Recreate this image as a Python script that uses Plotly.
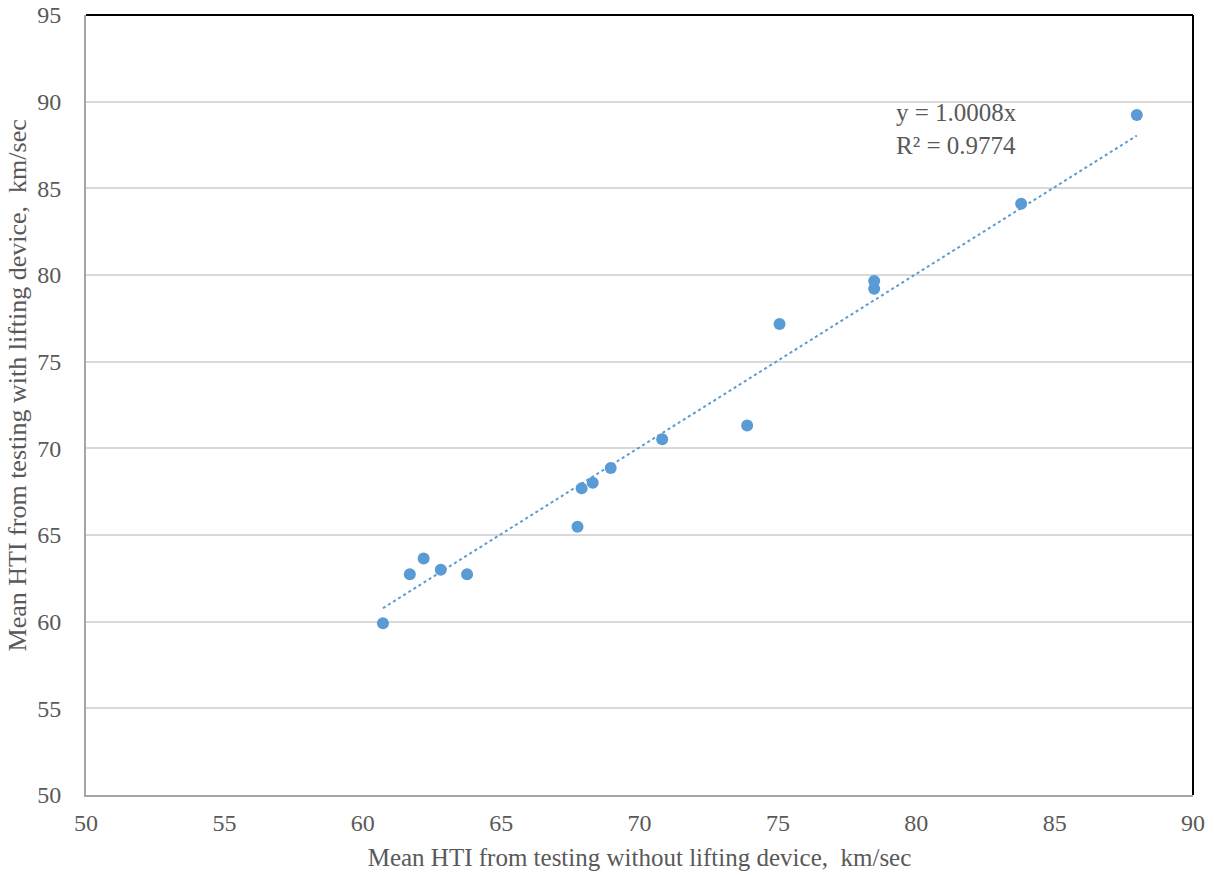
import plotly.graph_objects as go

# Data
x_without = [60.73, 61.70, 62.20, 62.82, 63.77, 67.76, 67.91, 68.31, 68.96,
             70.82, 73.89, 75.06, 78.48, 78.48, 83.79, 87.97]
y_with = [59.91, 62.74, 63.65, 62.99, 62.74, 65.48, 67.69, 68.01, 68.86,
          70.53, 71.32, 77.17, 79.65, 79.21, 84.11, 89.23]
slope = 1.0008
r_squared = 0.9774
x_ticks = [50, 55, 60, 65, 70, 75, 80, 85, 90]
y_ticks = [50, 55, 60, 65, 70, 75, 80, 85, 90, 95]

blue = "#5B9BD5"
grey_text = "#595959"
font_family = "Liberation Serif, Times New Roman, serif"

trend_x = [min(x_without), max(x_without)]
trend_y = [slope * v for v in trend_x]

fig = go.Figure()
fig.add_trace(go.Scatter(
    x=trend_x, y=trend_y, mode="lines",
    line=dict(color=blue, width=2, dash="dot"),
    hoverinfo="skip", showlegend=False))
fig.add_trace(go.Scatter(
    x=x_without, y=y_with, mode="markers",
    marker=dict(color=blue, size=12, line=dict(width=0)),
    showlegend=False))

fig.update_layout(
    width=1214, height=875,
    margin=dict(l=86, r=21, t=15, b=80, pad=0),
    paper_bgcolor="white", plot_bgcolor="white",
    font=dict(family=font_family, color=grey_text, size=25),
    xaxis=dict(
        range=[50, 90], tickvals=x_ticks, ticks="", showgrid=False,
        zeroline=False, showline=True, linecolor="#A6A6A6", linewidth=2,
        automargin=False, ticklabelstandoff=5,
        tickfont=dict(size=24, color=grey_text),
        title=dict(text="Mean HTI from testing without lifting device,  km/sec",
                   font=dict(size=25, color=grey_text), standoff=14),
    ),
    yaxis=dict(
        range=[50, 95], tickvals=y_ticks, ticks="", showgrid=True,
        gridcolor="#D9D9D9", gridwidth=1.5, zeroline=False,
        showline=True, linecolor="#A6A6A6", linewidth=2,
        automargin=False,
        tickfont=dict(size=24, color=grey_text), ticklabelstandoff=18,
    ),
    annotations=[
        dict(text="Mean HTI from testing with lifting device,  km/sec",
             xref="paper", yref="paper", x=-0.0615, y=0.525,
             xanchor="center", yanchor="middle", textangle=-90,
             showarrow=False, font=dict(size=26, color=grey_text)),
        dict(text="y = 1.0008x<br>R² = 0.9774",
             xref="paper", yref="paper", x=0.730, y=0.895,
             xanchor="left", yanchor="top", align="left",
             showarrow=False, font=dict(size=25, color=grey_text)),
    ],
    shapes=[
        dict(type="line", xref="paper", yref="paper", x0=0, x1=1, y0=1, y1=1,
             line=dict(color="black", width=2)),
        dict(type="line", xref="paper", yref="paper", x0=1, x1=1, y0=0, y1=1,
             line=dict(color="black", width=2)),
    ],
)

fig.write_html("out.html")
